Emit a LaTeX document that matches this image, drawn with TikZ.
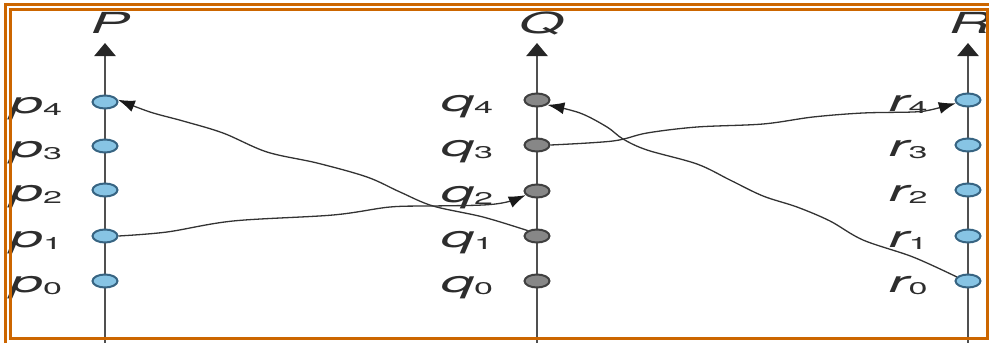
\documentclass[tikz,border=0pt]{standalone}
\usepackage{fontspec}
\setmainfont{TeX Gyre Heros}
\usetikzlibrary{shapes.geometric,arrows.meta}
\definecolor{bord}{RGB}{204,102,0}
\definecolor{evblue}{RGB}{135,196,228}
\definecolor{evblueline}{RGB}{55,100,130}
\definecolor{evgrey}{RGB}{135,135,135}
\definecolor{axisc}{RGB}{80,80,80}
\definecolor{txtc}{RGB}{45,45,45}
\newcommand{\lbl}[2]{{\fontsize{30}{31}\selectfont\itshape #1}\raisebox{-2pt}{\fontsize{17}{18}\selectfont #2}}
\tikzset{
  axisline/.style={draw=axisc,line width=2.4pt,-{Triangle[length=13pt,width=21pt,color=black!85]}},
  evb/.style={ellipse,draw=evblueline,fill=evblue,line width=2pt,minimum width=25pt,minimum height=13pt,inner sep=0pt},
  evg/.style={ellipse,draw=black!75,fill=evgrey,line width=2pt,minimum width=25pt,minimum height=13pt,inner sep=0pt},
  lab/.style={anchor=base,text=txtc,inner sep=0pt,xscale=2},
  conn/.style={draw=black!80,line width=1.3pt,-{Latex[length=17pt,width=12pt,color=black!90]}},
  frame/.style={draw=bord,line width=3.6pt}
}
\begin{document}
\begin{tikzpicture}[x=1pt,y=-1pt]
\useasboundingbox (0,0) rectangle (989,343);
\clip (0,0) rectangle (989,343);
% axes
\coordinate (Pb) at (105,350); \coordinate (Pt) at (105,43);
\coordinate (Qb) at (537,350); \coordinate (Qt) at (537,43);
\coordinate (Rb) at (968,350); \coordinate (Rt) at (968,43);
\draw[axisline] (Pb) -- (Pt);
\draw[axisline] (Qb) -- (Qt);
\draw[axisline] (Rb) -- (Rt);
\node[lab] (Pl) at (110,33) {\fontsize{29}{30}\selectfont\itshape P};
\node[lab] (Ql) at (541,33) {\fontsize{29}{30}\selectfont\itshape Q};
\node[lab] (Rl) at (970,33) {\fontsize{29}{30}\selectfont\itshape R};
% events
\foreach \i/\y in {0/281,1/236,2/190,3/146,4/102}{
  \node[evb] (p\i) at (105,\y) {};
  \node[lab] (pl\i) at (36,\y+11) {\lbl{p}{\i}};
}
\foreach \i/\y in {0/281,1/236,2/191,3/145,4/100}{
  \node[evg] (q\i) at (537,\y) {};
  \node[lab] (ql\i) at (467,\y+11) {\lbl{q}{\i}};
}
\foreach \i/\y in {0/281,1/236,2/190,3/145,4/100}{
  \node[evb] (r\i) at (968,\y) {};
  \node[lab] (rl\i) at (908,\y+11) {\lbl{r}{\i}};
}
% messages
\draw[conn] plot[smooth,tension=0.55] coordinates {(p1.east) (167,232) (233,221) (333,215) (390,207) (433,206) (483,205) (507,202) (q2.200)};
\draw[conn] plot[smooth,tension=0.55] coordinates {(q1.150) (483,217) (433,206) (400,192) (367,177) (317,163) (267,152) (223,133) (183,121) (150,112) (p4.10)};
\draw[conn] plot[smooth,tension=0.55] coordinates {(q3.east) (613,141) (647,133) (697,127) (763,124) (813,117) (863,113) (913,112) (930,110) (r4.195)};
\draw[conn] plot[smooth,tension=0.55] coordinates {(r0.160) (913,257) (863,240) (830,221) (797,207) (763,196) (730,180) (697,164) (647,150) (623,139) (607,127) (580,113) (q4.335)};
% frame
\draw[frame] (5.5,4.5) rectangle (1000,360);
\draw[frame] (10.5,9.5) rectangle (987.5,338.5);
\end{tikzpicture}
\end{document}
